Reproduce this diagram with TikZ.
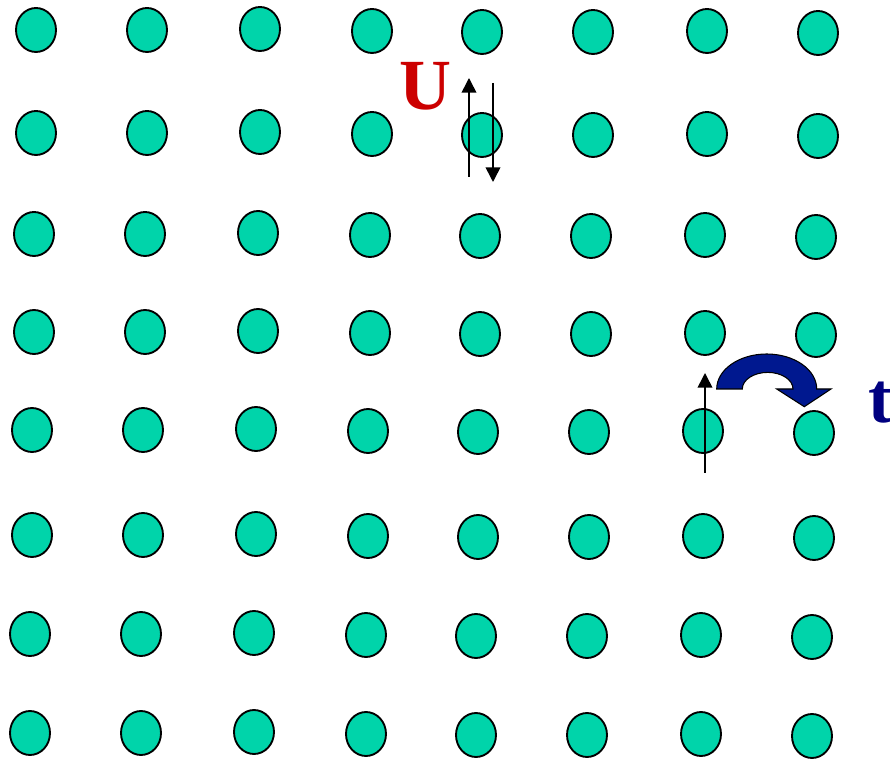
\documentclass[tikz,border=0pt]{standalone}
\usepackage{fontspec}
\setmainfont{Liberation Serif}
\usetikzlibrary{shapes.geometric,arrows.meta}
\definecolor{dotfill}{RGB}{0,212,170}
\definecolor{hopcol}{RGB}{0,24,143}
\definecolor{tcol}{RGB}{0,0,128}
\definecolor{ucol}{RGB}{204,0,0}
\tikzset{
  dot/.style={ellipse, draw=black, fill=dotfill, line width=1.4pt,
    minimum width=30pt, minimum height=33pt, inner sep=0pt},
  spinarrow/.style={draw=black, line width=1.2pt,
    -{Triangle[width=11pt,length=11pt]}},
  bigletter/.style={inner sep=0pt, font=\fontsize{54}{60}\selectfont\bfseries},
  hop/.style={fill=hopcol, draw=black, line width=0.8pt, line join=miter}
}
\begin{document}
\begin{tikzpicture}[x=0.75pt,y=-0.75pt]
\path[use as bounding box, clip] (0,0) rectangle (890,762);
\fill[white] (0,0) rectangle (890,762);
\foreach \r [count=\i] in {30,133,234,332,430,535,634,733} {
  \foreach \c/\dy [count=\j] in {36/0,147/0,260/-1,372/1,482/2,593/2,707/1,818/3} {
    \pgfmathsetmacro\dx{-2*int((\i-1)/2)}
    \node[dot] (c\i\j) at (\c+\dx,\r+\dy) {};
  }
}
% U label and spin pair
\node[bigletter, text=ucol, anchor=base west] (U) at (399,110) {U};
\coordinate (upA) at (469,177);
\coordinate (upB) at (469,78);
\coordinate (dnA) at (493,83);
\coordinate (dnB) at (493,182);
\draw[spinarrow] (upA) -- (upB);
\draw[spinarrow] (dnA) -- (dnB);
% hopping spin
\coordinate (spA) at (705,473);
\coordinate (spB) at (705,373);
\draw[spinarrow] (spA) -- (spB);
% curved hopping arrow
\path[hop] (716.7,389) .. controls (716.7,369.7) and (739.1,354) .. (766.7,354)
  .. controls (794.3,354) and (816.7,369.7) .. (816.7,389)
  -- (831,389) -- (804.3,406.7) -- (776.7,389) -- (793,389)
  .. controls (793,379.8) and (781.7,372.4) .. (767.7,372.4)
  .. controls (753.7,372.4) and (742.3,379.8) .. (742.3,389) -- cycle;
\node[bigletter, text=tcol, anchor=base west] (t) at (868,423) {t};
\end{tikzpicture}
\end{document}
